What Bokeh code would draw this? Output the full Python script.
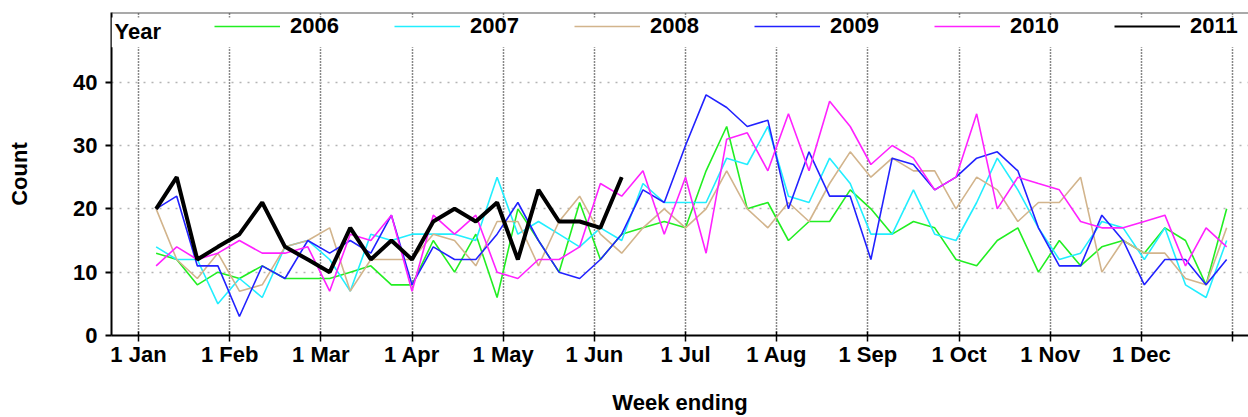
import pandas as pd
from bokeh.plotting import figure
from bokeh.models import (Range1d, FixedTicker, Legend, LegendItem, Label,
                          BoxAnnotation, Span)
from bokeh.embed import file_html
from bokeh.resources import INLINE

# ---------------- data ----------------
years = ["2006", "2007", "2008", "2009", "2010", "2011"]
week_ending = pd.date_range("2011-01-07", periods=52, freq="7D")
month_ticks = list(range(13))
month_labels = ["1 Jan", "1 Feb", "1 Mar", "1 Apr", "1 May", "1 Jun", "1 Jul",
                "1 Aug", "1 Sep", "1 Oct", "1 Nov", "1 Dec", ""]
count_ticks = [0, 10, 20, 30, 40]

y2006 = [13, 12, 8, 10, 9, 11, 9, 9, 9, 10, 11, 8, 8, 15, 10, 16, 6, 20, 15, 10,
         21, 12, 16, 17, 18, 17, 26, 33, 20, 21, 15, 18, 18, 23, 20, 16, 18, 17, 12, 11,
         15, 17, 10, 15, 11, 14, 15, 13, 17, 15, 8, 20]
y2007 = [14, 12, 12, 5, 9, 6, 14, 15, 12, 7, 16, 15, 16, 16, 16, 15, 25, 16, 18, 16,
         14, 17, 15, 24, 21, 21, 21, 28, 27, 33, 22, 21, 28, 24, 16, 16, 23, 16, 15, 21,
         28, 23, 17, 12, 13, 18, 17, 12, 17, 8, 6, 15]
y2008 = [20, 12, 9, 13, 7, 8, 14, 15, 17, 7, 12, 12, 12, 16, 15, 11, 18, 18, 11, 18,
         22, 16, 13, 17, 20, 17, 20, 26, 20, 17, 21, 18, 24, 29, 25, 28, 26, 26, 20, 25,
         23, 18, 21, 21, 25, 10, 15, 13, 13, 9, 8, 17]
y2009 = [20, 22, 11, 11, 3, 11, 9, 15, 13, 15, 13, 19, 8, 14, 12, 12, 16, 21, 15, 10,
         9, 12, 16, 23, 21, 30, 38, 36, 33, 34, 20, 29, 22, 22, 12, 28, 27, 23, 25, 28,
         29, 26, 17, 11, 11, 19, 15, 8, 12, 12, 8, 12]
y2010 = [11, 14, 12, 13, 15, 13, 13, 14, 7, 16, 15, 19, 7, 19, 16, 19, 10, 9, 12, 12,
         14, 24, 22, 26, 16, 25, 13, 31, 32, 26, 35, 26, 37, 33, 27, 30, 28, 23, 25, 35,
         20, 25, 24, 23, 18, 17, 17, 18, 19, 11, 17, 14]
y2011 = [20, 25, 12, 14, 16, 21, 14, 12, 10, 17, 12, 15, 12, 18, 20, 18, 21, 12, 23, 18,
         18, 17, 25]

series = [y2006, y2007, y2008, y2009, y2010, y2011]
colors = ["#22ee22", "#22eeff", "#d2b48c", "#2222ff", "#ff22ff", "#000000"]
widths = [1.6, 1.6, 1.6, 1.6, 1.6, 4.0]

# x position: month index + fraction of the month (months equally spaced)
xpos = list((week_ending.month - 1) + (week_ending.day - 1) / week_ending.days_in_month)

FONT = "Liberation Sans"
FS = "22px"

p = figure(width=1248, height=417, output_backend="svg", toolbar_location=None,
           title=None,
           x_range=Range1d(-0.296, 12.175), y_range=Range1d(0, 51.0),
           min_border_left=111, min_border_right=0, min_border_top=12,
           min_border_bottom=77)
p.outline_line_color = None
p.background_fill_color = "white"
p.border_fill_color = "white"

# grids
p.xgrid.grid_line_color = "#111111"
p.xgrid.grid_line_dash = "1 2"
p.xgrid.grid_line_width = 1.5
p.ygrid.grid_line_color = "#b4b4b4"
p.ygrid.grid_line_dash = "2 6"
p.ygrid.grid_line_width = 1.5

# axes
p.xaxis.ticker = FixedTicker(ticks=month_ticks)
p.xaxis.major_label_overrides = {t: lab for t, lab in zip(month_ticks, month_labels)}
p.yaxis.ticker = FixedTicker(ticks=count_ticks)
for ax in (p.xaxis, p.yaxis):
    ax.axis_line_color = "black"
    ax.axis_line_width = 2
    ax.major_tick_line_color = "black"
    ax.minor_tick_line_color = None
    ax.major_label_text_font = FONT
    ax.major_label_text_font_size = FS
    ax.major_label_text_font_style = "bold"
    ax.major_label_text_color = "black"
    ax.axis_label_text_font = FONT
    ax.axis_label_text_font_size = FS
    ax.axis_label_text_font_style = "bold"
    ax.axis_label_text_color = "black"
p.xaxis.major_tick_in = 4
p.xaxis.major_tick_out = 6
p.xaxis.major_tick_line_width = 1.5
p.xaxis.major_label_standoff = 0
p.xaxis.axis_label = "Week ending"
p.xaxis.axis_label_standoff = 20
p.yaxis.major_tick_in = 0
p.yaxis.major_tick_out = 6
p.yaxis.major_tick_line_width = 2
p.yaxis.major_label_standoff = 8
p.yaxis.axis_label = "Count"
p.yaxis.axis_label_standoff = 38

# top border line
p.add_layout(Span(location=51.0, dimension="width", line_color="#555555", line_width=2))

# white strip behind the legend row
p.add_layout(BoxAnnotation(bottom=45.5, top=50.2, fill_color="white", fill_alpha=1.0,
                           line_color=None))

# lines
legend_renderers = []
for yr, vals, col, w in zip(years, series, colors, widths):
    xs = xpos[:len(vals)]
    if w > 2:
        # thin copy underneath the thick line, used only as the legend swatch
        legend_renderers.append(p.line(xs, vals, line_color=col, line_width=2))
        p.line(xs, vals, line_color=col, line_width=w)
    else:
        legend_renderers.append(p.line(xs, vals, line_color=col, line_width=w))

p.add_layout(Label(x=-0.263, y=48.06, text="Year", text_font=FONT, text_font_size=FS,
                   text_font_style="bold", text_color="black",
                   text_align="left", text_baseline="middle"))
legend = Legend(items=[LegendItem(label=yr, renderers=[r])
                       for yr, r in zip(years, legend_renderers)],
                orientation="horizontal", location=(103, 295),
                padding=0, margin=0, spacing=55,
                glyph_width=66, glyph_height=28, label_width=49, label_height=28,
                label_standoff=10, background_fill_alpha=0, border_line_color=None,
                label_text_font=FONT, label_text_font_size=FS,
                label_text_font_style="bold", label_text_color="black")
p.add_layout(legend)

open("out.html", "w").write(file_html(p, INLINE))
